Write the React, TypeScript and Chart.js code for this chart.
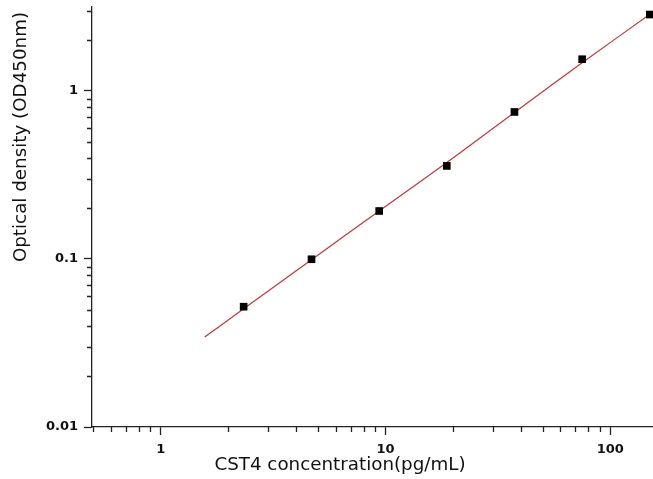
import React, { useEffect, useRef } from "react";
import { Chart, registerables } from "chart.js";

Chart.register(...registerables);

// Measured standards (concentration pg/mL, OD450)
const concentrations = [2.34, 4.69, 9.38, 18.75, 37.5, 75, 150];
const odValues = [0.052, 0.0996, 0.193, 0.358, 0.75, 1.545, 2.85];

// Fitted curve
const fitX = [1.57, 2.34, 4.69, 9.38, 18.75, 37.5, 75, 155];
const fitY = [0.0343, 0.0505, 0.099, 0.193, 0.375, 0.745, 1.47, 2.95];

// Axis ticks
const xMajorTicks = [1, 10, 100];
const xMinorTicks = [0.5, 0.6, 0.7, 0.8, 0.9, 2, 3, 4, 5, 6, 7, 8, 9, 20, 30, 40, 50, 60, 70, 80, 90];
const yMajorTicks = [0.01, 0.1, 1];
const yMinorTicks = [0.02, 0.03, 0.04, 0.05, 0.06, 0.07, 0.08, 0.09, 0.2, 0.3, 0.4, 0.5, 0.6, 0.7, 0.8, 0.9, 2, 3];
const xTickLabels = ["1", "10", "100"];
const yTickLabels = ["0.01", "0.1", "1"];

const xTitle = "CST4 concentration(pg/mL)";
const yTitle = "Optical density (OD450nm)";

const AXIS_COLOR = "#222";

const minorTickPlugin = {
  id: "minorTicks",
  afterDraw(chart: any) {
    const ctx = chart.ctx;
    const xs = chart.scales.x;
    const ys = chart.scales.y;
    ctx.save();
    ctx.strokeStyle = AXIS_COLOR;
    ctx.lineWidth = 1.3;
    ctx.beginPath();
    for (const v of xMinorTicks) {
      const px = Math.round(xs.getPixelForValue(v)) + 0.5;
      ctx.moveTo(px, xs.top);
      ctx.lineTo(px, xs.top + 5);
    }
    for (const v of yMinorTicks) {
      const py = Math.round(ys.getPixelForValue(v)) + 0.5;
      ctx.moveTo(ys.right, py);
      ctx.lineTo(ys.right - 5, py);
    }
    ctx.stroke();

    // axis titles
    ctx.fillStyle = "#111";
    ctx.font = "18.3px 'DejaVu Sans', sans-serif";
    ctx.textAlign = "center";
    ctx.textBaseline = "middle";
    ctx.fillText(xTitle, 340, 465);
    ctx.translate(21, 137);
    ctx.rotate(-Math.PI / 2);
    ctx.fillText(yTitle, 0, 0);
    ctx.restore();
  },
};

export default function App() {
  const ref = useRef<HTMLCanvasElement | null>(null);

  useEffect(() => {
    if (!ref.current) return;
    const chart = new Chart(ref.current, {
      type: "scatter",
      data: {
        datasets: [
          {
            label: "Standards",
            data: concentrations.map((x, i) => ({ x, y: odValues[i] })),
            pointStyle: "rect",
            pointRadius: 5.4,
            pointBackgroundColor: "#000",
            pointBorderWidth: 0,
            showLine: false,
            clip: false,
            order: 0,
          },
          {
            label: "Fit",
            data: fitX.map((x, i) => ({ x, y: fitY[i] })),
            showLine: true,
            borderColor: "rgb(205,50,50)",
            borderWidth: 1.2,
            pointRadius: 0,
            tension: 0.4,
            order: 1,
          },
        ],
      },
      options: {
        responsive: false,
        animation: false,
        layout: { autoPadding: false, padding: { top: 7, right: 0, left: 0, bottom: 0 } },
        plugins: {
          legend: { display: false },
          tooltip: { enabled: false },
        },
        scales: {
          x: {
            type: "logarithmic",
            min: 0.495,
            max: 155,
            afterBuildTicks: (s: any) => {
              s.ticks = xMajorTicks.map((v) => ({ value: v, major: true }));
            },
            afterFit: (s: any) => {
              s.height = 52;
              s.paddingLeft = 0;
              s.paddingRight = 0;
            },
            ticks: {
              autoSkip: false,
              maxRotation: 0,
              padding: 7,
              color: "#111",
              font: { family: "'DejaVu Sans'", weight: "bold", size: 13 },
              callback: (v: any) => {
                const i = xMajorTicks.indexOf(Number(v));
                return i >= 0 ? xTickLabels[i] : "";
              },
            },
            grid: {
              display: true,
              drawOnChartArea: false,
              drawTicks: true,
              tickLength: 8,
              tickColor: AXIS_COLOR,
              tickWidth: 1.3,
            },
            border: { display: true, color: AXIS_COLOR, width: 1.3 },
          },
          y: {
            type: "logarithmic",
            min: 0.01,
            max: 3.16,
            afterBuildTicks: (s: any) => {
              s.ticks = yMajorTicks.map((v) => ({ value: v, major: true }));
            },
            afterFit: (s: any) => {
              s.width = 92;
              s.paddingTop = 0;
              s.paddingBottom = 0;
            },
            ticks: {
              autoSkip: false,
              padding: 6,
              color: "#111",
              font: { family: "'DejaVu Sans'", weight: "bold", size: 13 },
              callback: (v: any) => {
                const i = yMajorTicks.indexOf(Number(v));
                return i >= 0 ? yTickLabels[i] : "";
              },
            },
            grid: {
              display: true,
              drawOnChartArea: false,
              drawTicks: true,
              tickLength: 8,
              tickColor: AXIS_COLOR,
              tickWidth: 1.3,
            },
            border: { display: true, color: AXIS_COLOR, width: 1.3 },
          },
        },
      },
      plugins: [minorTickPlugin],
    });
    return () => chart.destroy();
  }, []);

  return (
    <div style={{ position: "fixed", left: 0, top: 0, width: 653, height: 479, background: "#fff" }}>
      <canvas ref={ref} width={653} height={479} style={{ display: "block" }} />
    </div>
  );
}
